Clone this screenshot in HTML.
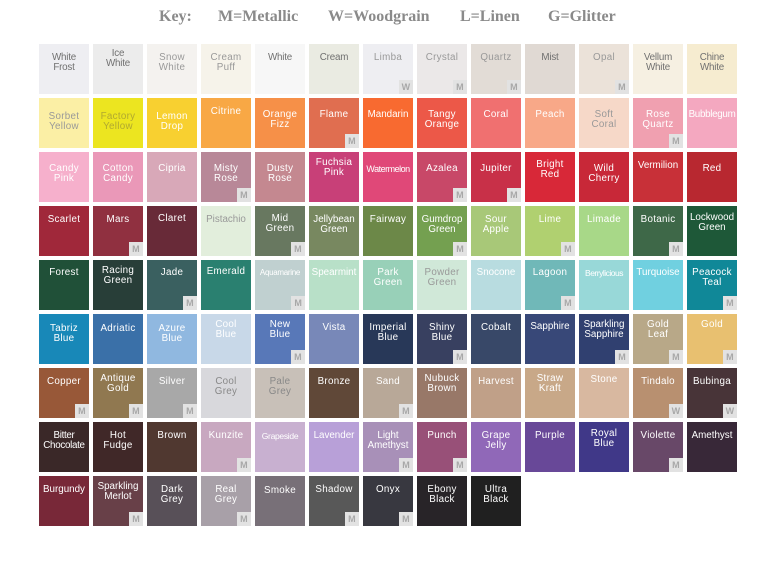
<!DOCTYPE html>
<html><head><meta charset="utf-8"><style>
body{margin:0;width:775px;height:561px;background:#fff;position:relative;overflow:hidden;font-family:"Liberation Sans",sans-serif}
.key{position:absolute;top:8px;left:0;width:775px;font-family:"Liberation Serif",serif;font-weight:bold;font-size:16px;color:#8a8a8a}
.key span{position:absolute;top:0}
.g{position:absolute;left:39px;top:44px;display:grid;grid-template-columns:repeat(13,50px);grid-auto-rows:50px;gap:4px}
.g div{position:relative;color:#fff;font-size:9.8px;line-height:10px;text-align:center;padding-top:9px;box-sizing:border-box;letter-spacing:.3px;white-space:nowrap;overflow:hidden}
.d{color:#999!important}
.k{color:#707070!important;letter-spacing:-.2px!important}
.g b{position:absolute;right:0;bottom:0;width:14px;height:14px;background:#e2e2e2;color:#a8a8a8;font-size:9px;line-height:14px;text-align:center}
</style></head><body>
<div class="key"><span style="left:159px">Key:</span><span style="left:218px">M=Metallic</span><span style="left:328px">W=Woodgrain</span><span style="left:460px">L=Linen</span><span style="left:548px">G=Glitter</span></div>
<div class="g">
<div class="k" style="background:#eeeef2">White<br>Frost</div>
<div class="k" style="background:#ececec;padding-top:5px">Ice<br>White</div>
<div class="d" style="background:#f4f2ef">Snow<br>White</div>
<div class="d" style="background:#f6f3ea">Cream<br>Puff</div>
<div class="k" style="background:#f7f7f7">White</div>
<div class="k" style="background:#eaebe2">Cream</div>
<div class="d" style="background:#eeeef2">Limba<b>W</b></div>
<div class="d" style="background:#ebe8e8">Crystal<b>M</b></div>
<div class="d" style="background:#e2dcd6">Quartz<b>M</b></div>
<div class="k" style="background:#e0d9d3">Mist</div>
<div class="d" style="background:#ebe2d9">Opal<b>M</b></div>
<div class="k" style="background:#f6f0e2">Vellum<br>White</div>
<div class="k" style="background:#f6ecd0">Chine<br>White</div>

<div class="d" style="background:#fbefa5;padding-top:14px">Sorbet<br>Yellow</div>
<div class="d" style="background:#ece520;padding-top:14px;color:#b0a830!important">Factory<br>Yellow</div>
<div style="background:#f8d030;padding-top:14px">Lemon<br>Drop</div>
<div style="background:#f8a845">Citrine</div>
<div style="background:#f69048;padding-top:12px">Orange<br>Fizz</div>
<div style="background:#e06e50;padding-top:12px">Flame<b>M</b></div>
<div style="background:#f86a30;padding-top:12px;letter-spacing:0">Mandarin</div>
<div style="background:#ec5848;padding-top:12px">Tangy<br>Orange</div>
<div style="background:#f07070;padding-top:12px">Coral</div>
<div style="background:#f8a888;padding-top:12px">Peach</div>
<div class="d" style="background:#f6d8c8;padding-top:12px">Soft<br>Coral</div>
<div style="background:#f0a0b0;padding-top:12px">Rose<br>Quartz<b>M</b></div>
<div style="background:#f4a8c0;padding-top:12px;letter-spacing:-.3px">Bubblegum</div>

<div style="background:#f6b0cc;padding-top:12px">Candy<br>Pink</div>
<div style="background:#ea98b8;padding-top:12px">Cotton<br>Candy</div>
<div style="background:#d8a8b8;padding-top:12px">Cipria</div>
<div style="background:#b88898;padding-top:12px">Misty<br>Rose<b>M</b></div>
<div style="background:#c48890;padding-top:12px">Dusty<br>Rose</div>
<div style="background:#c84078;padding-top:6px">Fuchsia<br>Pink</div>
<div style="background:#e04878;padding-top:12px;letter-spacing:-.5px;font-size:9px">Watermelon</div>
<div style="background:#c84868;padding-top:12px">Azalea<b>M</b></div>
<div style="background:#c83048;padding-top:12px">Jupiter<b>M</b></div>
<div style="background:#d82838;padding-top:8px">Bright<br>Red</div>
<div style="background:#c82838;padding-top:12px">Wild<br>Cherry</div>
<div style="background:#c83038;letter-spacing:0">Vermilion</div>
<div style="background:#b82830;padding-top:12px">Red</div>

<div style="background:#a0283a">Scarlet</div>
<div style="background:#903040">Mars<b>M</b></div>
<div style="background:#682a38;padding-top:8px">Claret</div>
<div class="d" style="background:#e2eedc;letter-spacing:0">Pistachio</div>
<div style="background:#687860;padding-top:8px">Mid<br>Green<b>M</b></div>
<div style="background:#788860;letter-spacing:0">Jellybean<br>Green</div>
<div style="background:#6c8848">Fairway</div>
<div style="background:#74a050;letter-spacing:0">Gumdrop<br>Green<b>M</b></div>
<div style="background:#a8c878">Sour<br>Apple</div>
<div style="background:#b0d070">Lime<b>M</b></div>
<div style="background:#a8d888">Limade</div>
<div style="background:#3e6848">Botanic<b>M</b></div>
<div style="background:#1e5838;padding-top:7px;letter-spacing:0">Lockwood<br>Green</div>

<div style="background:#205038;padding-top:8px">Forest</div>
<div style="background:#283e38;padding-top:6px">Racing<br>Green</div>
<div style="background:#3a6060;padding-top:8px">Jade<b>M</b></div>
<div style="background:#2a8070;padding-top:7px">Emerald</div>
<div style="background:#c0d0d0;font-size:8px;padding-top:8px;letter-spacing:-.3px">Aquamarine<b>M</b></div>
<div style="background:#b8e0c8;padding-top:8px;letter-spacing:0">Spearmint</div>
<div style="background:#98d0b8;padding-top:8px">Park<br>Green</div>
<div class="d" style="background:#d0e8d8;padding-top:8px">Powder<br>Green</div>
<div style="background:#b8dce0;padding-top:8px;letter-spacing:0">Snocone</div>
<div style="background:#70b8b8;padding-top:8px">Lagoon<b>M</b></div>
<div style="background:#98d8d8;padding-top:8px;letter-spacing:-.5px;font-size:8.5px">Berrylicious</div>
<div style="background:#70d0e0;padding-top:8px;letter-spacing:0">Turquoise</div>
<div style="background:#108898;padding-top:8px">Peacock<br>Teal<b>M</b></div>

<div style="background:#1888b8;padding-top:10px">Tabriz<br>Blue</div>
<div style="background:#3a70a8;padding-top:10px">Adriatic</div>
<div style="background:#90b8e0;padding-top:10px">Azure<br>Blue</div>
<div style="background:#c8d8e8;padding-top:6px">Cool<br>Blue</div>
<div style="background:#5878b8;padding-top:6px">New<br>Blue<b>M</b></div>
<div style="background:#7888b8;padding-top:9px">Vista</div>
<div style="background:#283858;padding-top:9px">Imperial<br>Blue</div>
<div style="background:#384060;padding-top:9px">Shiny<br>Blue<b>M</b></div>
<div style="background:#384868;padding-top:9px">Cobalt</div>
<div style="background:#384878;padding-top:8px;letter-spacing:0">Sapphire</div>
<div style="background:#304070;padding-top:6px;letter-spacing:0">Sparkling<br>Sapphire<b>M</b></div>
<div style="background:#b8a888;padding-top:6px">Gold<br>Leaf<b>M</b></div>
<div style="background:#e8c070;padding-top:6px">Gold<b>M</b></div>

<div style="background:#985838">Copper<b>M</b></div>
<div style="background:#907850;padding-top:6px">Antique<br>Gold<b>M</b></div>
<div style="background:#a8a8a8">Silver<b>M</b></div>
<div style="background:#d8d8dc;color:#888!important">Cool<br>Grey</div>
<div style="background:#c8c0b8;color:#888!important">Pale<br>Grey</div>
<div style="background:#604838">Bronze</div>
<div style="background:#b8a898">Sand<b>M</b></div>
<div style="background:#987868;padding-top:6px">Nubuck<br>Brown</div>
<div style="background:#c0a088">Harvest</div>
<div style="background:#c8a888;padding-top:6px">Straw<br>Kraft</div>
<div style="background:#d8b8a0;padding-top:7px">Stone</div>
<div style="background:#b89070">Tindalo<b>W</b></div>
<div style="background:#483438">Bubinga<b>W</b></div>

<div style="background:#3a2828;letter-spacing:-.3px">Bitter<br>Chocolate</div>
<div style="background:#402828">Hot<br>Fudge</div>
<div style="background:#503830">Brown</div>
<div style="background:#c8a8c0">Kunzite<b>M</b></div>
<div style="background:#c8b0d0;font-size:8.5px;letter-spacing:-.3px">Grapeside</div>
<div style="background:#b8a0d8;letter-spacing:0">Lavender</div>
<div style="background:#a890b8;letter-spacing:0">Light<br>Amethyst<b>M</b></div>
<div style="background:#985078">Punch<b>M</b></div>
<div style="background:#9068b8">Grape<br>Jelly</div>
<div style="background:#684898">Purple</div>
<div style="background:#403888;padding-top:7px">Royal<br>Blue</div>
<div style="background:#684868">Violette<b>M</b></div>
<div style="background:#382838;letter-spacing:0">Amethyst</div>

<div style="background:#782838;letter-spacing:0">Burgundy</div>
<div style="background:#684048;padding-top:6px;letter-spacing:0">Sparkling<br>Merlot<b>M</b></div>
<div style="background:#585058">Dark<br>Grey</div>
<div style="background:#a8a0a8">Real<br>Grey<b>M</b></div>
<div style="background:#787078;padding-top:10px">Smoke</div>
<div style="background:#585858">Shadow<b>M</b></div>
<div style="background:#383840">Onyx<b>M</b></div>
<div style="background:#282428">Ebony<br>Black</div>
<div style="background:#202020">Ultra<br>Black</div>
</div>
</body></html>
